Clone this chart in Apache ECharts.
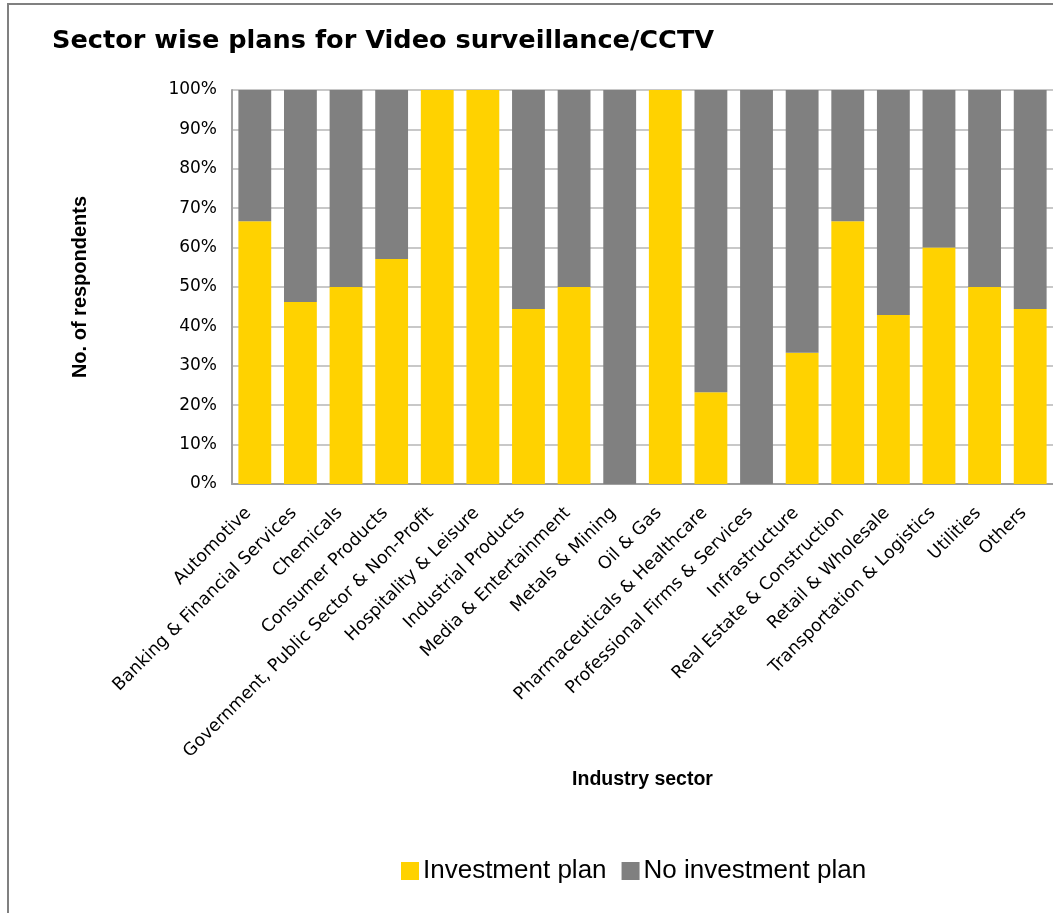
<!DOCTYPE html>
<html>
<head>
<meta charset="utf-8">
<title>Sector wise plans for Video surveillance/CCTV</title>
<script src="https://cdn.jsdelivr.net/npm/echarts@6/dist/echarts.min.js"></script>
<style>
  html, body { margin: 0; padding: 0; background: #ffffff; }
  #chart { width: 1053px; height: 913px; }
</style>
</head>
<body>
<div id="chart"></div>
<script>
// Industry sectors on the x axis
const sectors = [
  'Automotive',
  'Banking & Financial Services',
  'Chemicals',
  'Consumer Products',
  'Government, Public Sector & Non-Profit',
  'Hospitality & Leisure',
  'Industrial Products',
  'Media & Entertainment',
  'Metals & Mining',
  'Oil & Gas',
  'Pharmaceuticals & Healthcare',
  'Professional Firms & Services',
  'Infrastructure',
  'Real Estate & Construction',
  'Retail & Wholesale',
  'Transportation & Logistics',
  'Utilities',
  'Others'
];

// Share of respondents (%) per sector
const investmentPlan = [66.7, 46.2, 50, 57.1, 100, 100, 44.4, 50, 0, 100, 23.3, 0, 33.3, 66.7, 42.9, 60, 50, 44.4];
const noInvestmentPlan = [33.3, 53.8, 50, 42.9, 0, 0, 55.6, 50, 100, 0, 76.7, 100, 66.7, 33.3, 57.1, 40, 50, 55.6];

const seriesNames = ['Investment plan', 'No investment plan'];

const chart = echarts.init(document.getElementById('chart'), null, { renderer: 'canvas' });

chart.setOption({
  backgroundColor: '#ffffff',
  animation: false,
  title: {
    text: 'Sector wise plans for Video surveillance/CCTV',
    left: 52,
    top: 28,
    padding: 0,
    textStyle: {
      fontFamily: 'DejaVu Sans',
      fontWeight: 'bold',
      fontSize: 25.6,
      color: '#000000'
    }
  },
  graphic: [
    { type: 'line', shape: { x1: 8, y1: 4, x2: 8, y2: 913 }, style: { stroke: '#808080', lineWidth: 2 } },
    { type: 'line', shape: { x1: 7, y1: 4, x2: 1053, y2: 4 }, style: { stroke: '#808080', lineWidth: 2 } }
  ],
  legend: {
    data: seriesNames,
    left: 401,
    top: 858,
    padding: 0,
    itemWidth: 18,
    itemHeight: 18,
    itemGap: 15,
    icon: 'rect',
    textStyle: {
      fontFamily: 'Liberation Sans',
      fontSize: 26,
      color: '#000000',
      padding: [0, 0, 0, -1]
    }
  },
  grid: {
    left: 232,
    right: 0,
    top: 90,
    bottom: 429,
    containLabel: false
  },
  xAxis: {
    type: 'category',
    data: sectors,
    name: 'Industry sector',
    nameLocation: 'middle',
    nameGap: 286,
    nameTextStyle: {
      fontFamily: 'Liberation Sans',
      fontWeight: 'bold',
      fontSize: 19.5,
      color: '#000000'
    },
    axisLine: { lineStyle: { color: '#a0a0a0', width: 2 } },
    axisTick: { show: false },
    axisLabel: {
      interval: 0,
      rotate: 45,
      margin: 20,
      padding: [0, 9, 0, 0],
      fontFamily: 'DejaVu Sans',
      fontSize: 17.5,
      color: '#000000'
    }
  },
  yAxis: {
    type: 'value',
    min: 0,
    max: 100,
    interval: 10,
    name: 'No. of respondents',
    nameLocation: 'middle',
    nameGap: 142,
    nameTextStyle: {
      fontFamily: 'Liberation Sans',
      fontWeight: 'bold',
      fontSize: 20,
      color: '#000000'
    },
    axisLine: { show: true, lineStyle: { color: '#a0a0a0', width: 2 } },
    axisTick: { show: false },
    axisLabel: {
      formatter: '{value}%',
      margin: 15,
      fontFamily: 'DejaVu Sans',
      fontSize: 17,
      color: '#000000'
    },
    splitLine: { show: true, lineStyle: { color: '#c8c8c8', width: 2 } }
  },
  series: [
    {
      name: seriesNames[0],
      type: 'bar',
      stack: 'share',
      data: investmentPlan,
      barCategoryGap: '28%',
      itemStyle: { color: '#ffd200' }
    },
    {
      name: seriesNames[1],
      type: 'bar',
      stack: 'share',
      data: noInvestmentPlan,
      barCategoryGap: '28%',
      itemStyle: { color: '#808080' }
    }
  ]
});
</script>
</body>
</html>
